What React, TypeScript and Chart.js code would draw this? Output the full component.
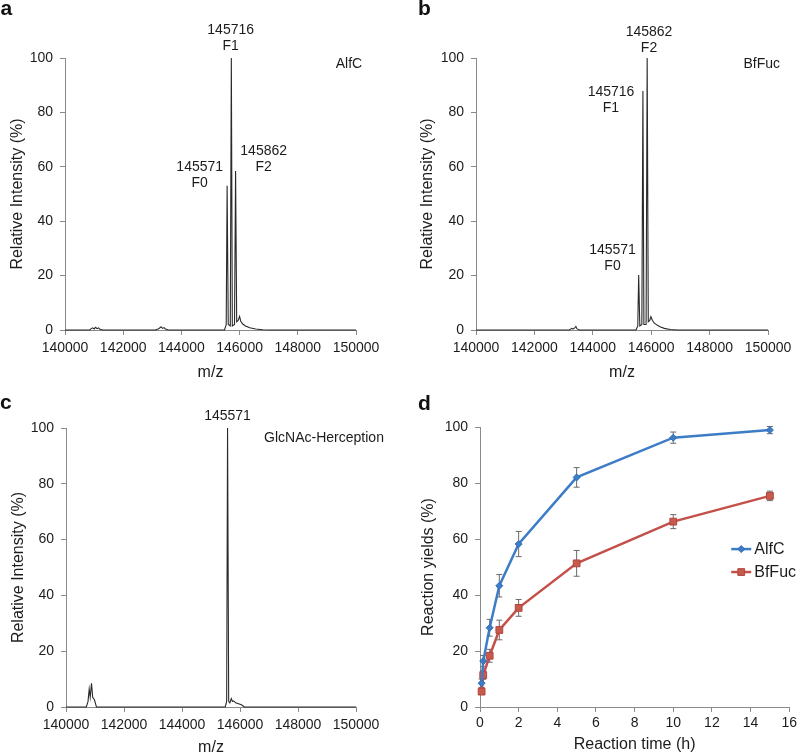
import React, { useEffect, useRef } from "react";
import { Chart, registerables } from "chart.js";
Chart.register(...registerables);

const FONT = '"Liberation Sans", Arial, Helvetica, sans-serif';
const AXIS = "#8a8a8a";
const TXT = "#1c1c1c";

// ---------- Panel a: AlfC spectrum ----------
const mzA = [140000, 140850, 140900, 140950, 141000, 141050, 141100, 141150, 141200, 141300,
  143100, 143200, 143250, 143300, 143350, 143400, 143450, 143550,
  145480, 145540, 145571, 145610, 145680, 145716, 145750, 145825, 145862, 145900,
  145950, 146000, 146040, 146100, 146200, 146350, 146550, 146800, 147100, 150000];
const intA = [0, 0, 0.5, 0.8, 0.4, 1.0, 0.5, 0.8, 0.3, 0,
  0, 0.4, 0.7, 1.2, 0.6, 0.9, 0.4, 0,
  0, 2, 53, 2, 1.5, 100, 1.5, 2, 58.5, 3,
  3.5, 5, 3.2, 2.3, 1.5, 0.8, 0.35, 0.1, 0, 0];
const labelsA = [
  { x: 145694, y: 110.3, text: ["145716", "F1"] },
  { x: 144629, y: 59.9, text: ["145571", "F0"] },
  { x: 146828, y: 65.8, text: ["145862", "F2"] },
  { x: 149759, y: 97.8, text: ["AlfC"] },
];

// ---------- Panel b: BfFuc spectrum ----------
const mzB = [140000, 143200, 143280, 143320, 143380, 143420, 143460, 143550,
  145480, 145540, 145571, 145610, 145680, 145716, 145750, 145825, 145862, 145900,
  145950, 145990, 146040, 146100, 146200, 146300, 146450, 146650, 146900, 150000];
const intB = [0, 0, 0.6, 0.3, 0.8, 1.3, 0.4, 0,
  0, 1.5, 20.2, 1.5, 2, 87.9, 2, 2, 100, 3,
  3.5, 4.9, 3.6, 2.6, 1.8, 1.2, 0.6, 0.2, 0, 0];
const labelsB = [
  { x: 145925, y: 109.6, text: ["145862", "F2"] },
  { x: 144623, y: 87.5, text: ["145716", "F1"] },
  { x: 144675, y: 29.4, text: ["145571", "F0"] },
  { x: 149784, y: 97.8, text: ["BfFuc"] },
];

// ---------- Panel c: GlcNAc-Herception spectrum ----------
const mzC = [140000, 140700, 140760, 140800, 140835, 140880, 140920, 140980, 141050,
  145490, 145540, 145571, 145610, 145650, 145700, 145740, 145780, 145850, 145950, 146050, 146150, 150000];
const intC = [0, 0, 2, 6.4, 3.5, 8.5, 3.5, 2.6, 0,
  0, 2, 100, 2, 1.5, 3, 2, 2.2, 1.5, 1.2, 0.8, 0, 0];
const labelsC = [
  { x: 145569, y: 104.3, text: ["145571"] },
  { x: 148897, y: 96.4, text: ["GlcNAc-Herception"] },
];

const mzTicks = [140000, 142000, 144000, 146000, 148000, 150000];
const intensityTicks = [0, 20, 40, 60, 80, 100];

// ---------- Panel d: reaction yields ----------
const timeH = [0.083, 0.167, 0.5, 1, 2, 5, 10, 15];
const yieldAlfC = [8.5, 16.4, 28.3, 43.3, 58.2, 82, 96.2, 98.9];
const errAlfC = [1.5, 2, 3, 4, 4.5, 3.5, 2, 1.3];
const yieldBfFuc = [5.5, 11.4, 18.3, 27.5, 35.4, 51.3, 66.2, 75.4];
const errBfFuc = [1, 1.5, 2.3, 3.5, 3, 4.6, 2.5, 1.7];
const timeTicks = [0, 2, 4, 6, 8, 10, 12, 14, 16];
const yieldTicks = [0, 20, 40, 60, 80, 100];
const seriesNames = ["AlfC", "BfFuc"];
const legendPos = [{ x: 13.0, y: 56.4 }, { x: 13.0, y: 48.2 }];

const annotPlugin = {
  id: "annot",
  afterDatasetsDraw(chart: any, _args: any, opts: any) {
    const items = (opts && opts.items) || [];
    const { ctx } = chart;
    const xs = chart.scales.x, ys = chart.scales.y;
    ctx.save();
    ctx.font = `14px ${FONT}`;
    ctx.fillStyle = TXT;
    ctx.textAlign = "center";
    ctx.textBaseline = "middle";
    items.forEach((it: any) => {
      const px = xs.getPixelForValue(it.x);
      const py = ys.getPixelForValue(it.y);
      it.text.forEach((t: string, i: number) => ctx.fillText(t, px, py + i * 16));
    });
    ctx.restore();
  },
};

const errorBarPlugin = {
  id: "errbars",
  beforeDatasetsDraw(chart: any, _args: any, opts: any) {
    const errs = (opts && opts.errors) || [];
    const { ctx } = chart;
    const xs = chart.scales.x, ys = chart.scales.y;
    ctx.save();
    ctx.strokeStyle = "#6a6a6a";
    ctx.lineWidth = 1;
    chart.data.datasets.forEach((ds: any, di: number) => {
      const e = errs[di];
      if (!e) return;
      ds.data.forEach((p: any, i: number) => {
        const px = xs.getPixelForValue(p.x);
        const top = ys.getPixelForValue(p.y + e[i]);
        const bot = ys.getPixelForValue(p.y - e[i]);
        ctx.beginPath();
        ctx.moveTo(px, top); ctx.lineTo(px, bot);
        ctx.moveTo(px - 3, top); ctx.lineTo(px + 3, top);
        ctx.moveTo(px - 3, bot); ctx.lineTo(px + 3, bot);
        ctx.stroke();
      });
    });
    ctx.restore();
  },
};

const legendPlugin = {
  id: "customLegend",
  afterDatasetsDraw(chart: any, _args: any, opts: any) {
    const pos = (opts && opts.positions) || [];
    const { ctx } = chart;
    const xs = chart.scales.x, ys = chart.scales.y;
    ctx.save();
    chart.data.datasets.forEach((ds: any, i: number) => {
      const p = pos[i];
      if (!p) return;
      const px = xs.getPixelForValue(p.x);
      const py = ys.getPixelForValue(p.y);
      ctx.strokeStyle = ds.borderColor;
      ctx.lineWidth = ds.borderWidth;
      ctx.beginPath();
      ctx.moveTo(px, py); ctx.lineTo(px + 20, py);
      ctx.stroke();
      ctx.fillStyle = ds.pointBackgroundColor;
      ctx.strokeStyle = ds.pointBorderColor;
      ctx.lineWidth = 1;
      (Chart as any).helpers?.drawPoint;
      const r = ds.pointRadius;
      ctx.beginPath();
      if (ds.pointStyle === "rectRot") {
        ctx.moveTo(px + 10, py - r); ctx.lineTo(px + 10 + r, py);
        ctx.lineTo(px + 10, py + r); ctx.lineTo(px + 10 - r, py);
        ctx.closePath();
      } else {
        const s = r * Math.SQRT1_2;
        ctx.rect(px + 10 - s, py - s, 2 * s, 2 * s);
      }
      ctx.fill();
      ctx.stroke();
      ctx.fillStyle = TXT;
      ctx.font = `16px ${FONT}`;
      ctx.textAlign = "left";
      ctx.textBaseline = "middle";
      ctx.fillText(ds.label, px + 23, py + 1);
    });
    ctx.restore();
  },
};

type Box = { padL: number; yW: number; top: number; right: number; xH: number; bottom: number };

function axisCommon(tickVals: number[], pad: number) {
  return {
    afterBuildTicks: (s: any) => { s.ticks = tickVals.map((v) => ({ value: v })); },
    ticks: { callback: (v: any) => String(v), font: { family: FONT, size: 14 }, color: TXT, padding: pad, maxRotation: 0, autoSkip: false },
    grid: { drawOnChartArea: false, drawTicks: true, tickLength: 5, color: AXIS, lineWidth: 1 },
    border: { display: true, color: AXIS, width: 1 },
  };
}

function baseOptions(box: Box, xMin: number, xMax: number, xTicks: number[], yTicks: number[], xTitle: string, yTitle: string, xPad: number) {
  return {
    animation: false,
    responsive: false,
    maintainAspectRatio: false,
    events: [],
    layout: { padding: { left: box.padL, top: box.top, right: box.right, bottom: box.bottom } },
    scales: {
      x: {
        type: "linear", min: xMin, max: xMax, ...axisCommon(xTicks, xPad),
        title: { display: true, text: xTitle, font: { family: FONT, size: 16 }, color: TXT, padding: { top: 4, bottom: -6 } },
        afterFit: (s: any) => { s.height = box.xH; },
      },
      y: {
        type: "linear", min: 0, max: 100, ...axisCommon(yTicks, 7),
        title: { display: true, text: yTitle, font: { family: FONT, size: 16 }, color: TXT, padding: { top: 4, bottom: 4 } },
        afterFit: (s: any) => { s.width = box.yW; },
      },
    },
  };
}

function spectrumConfig(mz: number[], inten: number[], box: Box, labels: any[]) {
  const opts: any = baseOptions(box, 140000, 150000, mzTicks, intensityTicks, "m/z", "Relative Intensity (%)", 5);
  opts.plugins = { legend: { display: false }, tooltip: { enabled: false }, annot: { items: labels } };
  return {
    type: "line",
    data: {
      datasets: [{
        data: mz.map((m, i) => ({ x: m, y: inten[i] })),
        borderColor: "#2a2a2a", borderWidth: 1.1, pointRadius: 0, tension: 0, clip: false, fill: false,
      }],
    },
    options: opts,
    plugins: [annotPlugin],
  };
}

function yieldConfig(box: Box) {
  const opts: any = baseOptions(box, 0, 16, timeTicks, yieldTicks, "Reaction time (h)", "Reaction yields (%)", 3);
  opts.plugins = {
    legend: { display: false }, tooltip: { enabled: false },
    errbars: { errors: [errAlfC, errBfFuc] },
    customLegend: { positions: legendPos },
  };
  return {
    type: "line",
    data: {
      datasets: [
        {
          label: seriesNames[0],
          data: timeH.map((t, i) => ({ x: t, y: yieldAlfC[i] })),
          borderColor: "#3d7cc6", backgroundColor: "#3d7cc6", borderWidth: 2.5,
          pointStyle: "rectRot", pointRadius: 3.5, pointBackgroundColor: "#3d7cc6", pointBorderColor: "#2f6db5", pointBorderWidth: 1,
          tension: 0, clip: false,
        },
        {
          label: seriesNames[1],
          data: timeH.map((t, i) => ({ x: t, y: yieldBfFuc[i] })),
          borderColor: "#c4504a", backgroundColor: "#c4504a", borderWidth: 2.5,
          pointStyle: "rect", pointRadius: 4.8, pointBackgroundColor: "#c75a4c", pointBorderColor: "#b2463f", pointBorderWidth: 1,
          tension: 0, clip: false,
        },
      ],
    },
    options: opts,
    plugins: [errorBarPlugin, legendPlugin],
  };
}

function ChartCanvas({ make }: { make: () => any }) {
  const ref = useRef<HTMLCanvasElement | null>(null);
  useEffect(() => {
    if (!ref.current) return;
    const chart = new Chart(ref.current, make());
    return () => chart.destroy();
  }, []);
  return (
    <canvas ref={ref} width={800} height={754}
      style={{ position: "absolute", left: 0, top: 0, width: 800, height: 754 }} />
  );
}

const letterStyle = (left: number, top: number): React.CSSProperties => ({
  position: "absolute", left, top, fontFamily: FONT, fontWeight: "bold", fontSize: 21, lineHeight: "21px", color: "#111",
});

export default function App() {
  const boxA: Box = { padL: 4.4, yW: 60.6, top: 58, right: 444, xH: 46.6, bottom: 377.4 };
  const boxB: Box = { padL: 414.4, yW: 61.6, top: 58, right: 32, xH: 46.6, bottom: 377.4 };
  const boxC: Box = { padL: 4.7, yW: 61.3, top: 428, right: 444, xH: 44.6, bottom: 2.4 };
  const boxD: Box = { padL: 414.7, yW: 65.3, top: 427, right: 9, xH: 41.6, bottom: 5.4 };
  return (
    <div style={{ position: "absolute", left: 0, top: 0, width: 800, height: 754, background: "#fff", overflow: "hidden" }}>
      <ChartCanvas make={() => spectrumConfig(mzA, intA, boxA, labelsA)} />
      <ChartCanvas make={() => spectrumConfig(mzB, intB, boxB, labelsB)} />
      <ChartCanvas make={() => spectrumConfig(mzC, intC, boxC, labelsC)} />
      <ChartCanvas make={() => yieldConfig(boxD)} />
      <div style={letterStyle(0.5, -3.5)}>a</div>
      <div style={letterStyle(418, -2.8)}>b</div>
      <div style={letterStyle(0, 391.2)}>c</div>
      <div style={letterStyle(418, 392.2)}>d</div>
    </div>
  );
}
